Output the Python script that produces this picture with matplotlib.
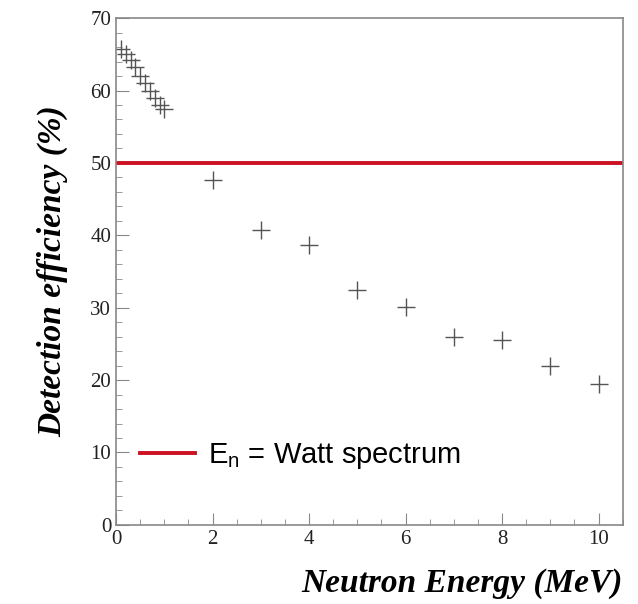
import numpy as np
import matplotlib
matplotlib.use("Agg")
import matplotlib.pyplot as plt
from matplotlib.ticker import MultipleLocator

# neutron energy (MeV) and detection efficiency (%)
energy = [0.1, 0.2, 0.3, 0.4, 0.5, 0.6, 0.7, 0.8, 0.9, 1.0,
          2, 3, 4, 5, 6, 7, 8, 9, 10]
efficiency = [65.8, 65.0, 64.2, 63.2, 62.0, 61.0, 60.0, 59.0, 58.0, 57.5,
              47.7, 40.8, 38.7, 32.5, 30.1, 25.9, 25.5, 21.9, 19.4]
watt_eff = 50.0
watt_label = r"$\mathregular{E_n}$ = Watt spectrum"

fig = plt.figure(figsize=(6.38, 6.04), dpi=100)
ax = fig.add_axes([0.182, 0.131, 0.794, 0.839])

ax.plot(energy, efficiency, ls="none", marker="+", ms=13, mew=1.0,
        color="#555555")
ax.axhline(watt_eff, color="#cc1122", lw=2.8, label=watt_label)

ax.set_xlim(0, 10.5)
ax.set_ylim(0, 70)
ax.xaxis.set_major_locator(MultipleLocator(2))
ax.xaxis.set_minor_locator(MultipleLocator(0.5))
ax.yaxis.set_major_locator(MultipleLocator(10))
ax.yaxis.set_minor_locator(MultipleLocator(2))
ax.tick_params(which="both", direction="in", colors="#888888",
               labelcolor="#222222", labelsize=15)
ax.tick_params(which="major", length=9)
ax.tick_params(which="minor", length=4)
for lab in ax.get_xticklabels() + ax.get_yticklabels():
    lab.set_family("Liberation Serif")
for sp in ax.spines.values():
    sp.set_color("#888888")
    sp.set_linewidth(1.2)

ax.set_ylabel("Detection efficiency (%)", family="Liberation Serif",
              style="italic", weight="bold", fontsize=24, labelpad=16)
ax.set_xlabel("Neutron Energy (MeV)", family="Liberation Serif",
              style="italic", weight="bold", fontsize=24, loc="right",
              labelpad=14)

leg = ax.legend(loc="lower left", bbox_to_anchor=(-0.005, 0.055),
                frameon=False, handlelength=1.9, handletextpad=0.45,
                prop={"family": "Liberation Sans", "size": 21})

fig.savefig("out.png", dpi=100)
